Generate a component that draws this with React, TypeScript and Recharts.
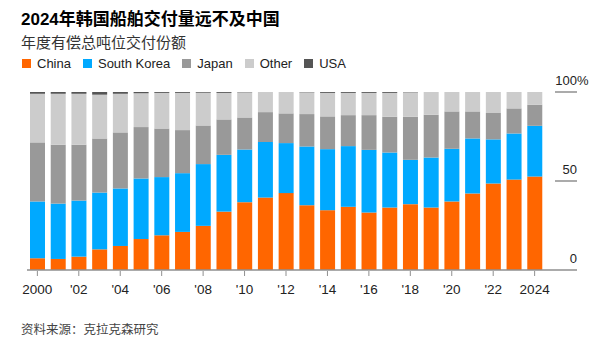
import { BarChart, Bar, XAxis, YAxis } from 'recharts';

const years = [
  2000, 2001, 2002, 2003, 2004, 2005, 2006, 2007, 2008, 2009, 2010, 2011, 2012,
  2013, 2014, 2015, 2016, 2017, 2018, 2019, 2020, 2021, 2022, 2023, 2024,
];
const china = [
  6.6, 6.2, 7.5, 11.6, 13.5, 17.4, 19.5, 21.4, 24.8, 32.8, 38.1, 40.7, 43.2,
  36.4, 33.6, 35.5, 32.3, 35.1, 37.0, 35.1, 38.5, 43.0, 48.6, 50.8, 52.5,
];
const southKorea = [
  31.9, 31.1, 31.5, 31.9, 32.3, 34.0, 32.7, 33.0, 34.7, 31.9, 29.6, 31.2, 28.1,
  33.0, 34.3, 34.1, 35.2, 30.9, 24.9, 28.1, 29.6, 30.9, 24.8, 25.9, 28.5,
];
const japan = [
  33.2, 33.1, 31.4, 30.4, 31.5, 28.9, 27.3, 24.2, 21.7, 19.9, 18.0, 16.8, 16.7,
  18.2, 18.4, 17.4, 19.5, 20.1, 24.2, 24.0, 21.0, 15.2, 14.8, 14.1, 11.9,
];
const other = [
  27.3, 28.6, 28.6, 24.6, 21.7, 19.0, 20.0, 20.9, 18.4, 14.9, 14.1, 11.3, 12.0,
  12.2, 13.2, 12.5, 12.5, 13.4, 13.7, 12.8, 10.9, 10.9, 11.8, 9.2, 7.1,
];
const usa = [
  1.0, 1.0, 1.0, 1.5, 1.0, 0.7, 0.5, 0.5, 0.4, 0.5, 0.2, 0, 0,
  0.2, 0.5, 0.5, 0.5, 0.5, 0.2, 0, 0, 0, 0, 0, 0,
];
const yTicks = [0, 50, 100];

const series = [
  { key: 'china', name: 'China', color: '#ff6600' },
  { key: 'southKorea', name: 'South Korea', color: '#00a9ff' },
  { key: 'japan', name: 'Japan', color: '#999999' },
  { key: 'other', name: 'Other', color: '#cccccc' },
  { key: 'usa', name: 'USA', color: '#555555' },
];

const data = years.map((year, i) => ({
  year,
  china: china[i],
  southKorea: southKorea[i],
  japan: japan[i],
  other: other[i],
  usa: usa[i],
}));

const FONT = '"Liberation Sans", Arial, "Noto Sans CJK SC", sans-serif';
const AXIS_GREY = '#8f8f8f';

const XTick = (props: any) => {
  const { x, y, payload } = props;
  const yr = Number(payload.value);
  if (yr % 2 !== 0) return <g />;
  const label = yr === 2000 || yr === 2024 ? String(yr) : "'" + String(yr).slice(2);
  return (
    <g>
      <line x1={x} x2={x} y1={y + 1} y2={y + 6} stroke={AXIS_GREY} strokeWidth={1} />
      <text x={x} y={y + 24} textAnchor="middle" fontSize={13.5} fill="#222" fontFamily={FONT}>
        {label}
      </text>
    </g>
  );
};

const YTick = (props: any) => {
  const { x, y, payload } = props;
  const v = Number(payload.value);
  const right = x + 32;
  return (
    <g>
      <line x1={v === 0 ? x : x + 10} x2={right} y1={y} y2={y} stroke={AXIS_GREY} strokeWidth={1.5} />
      <text x={right} y={y - 7} textAnchor="end" fontSize={13} fill="#222" fontFamily={FONT}>
        {v}
      </text>
      {v === 100 && (
        <text x={right} y={y - 7} textAnchor="start" fontSize={13} fill="#222" fontFamily={FONT}>
          %
        </text>
      )}
    </g>
  );
};

const App = () => {
  return (
    <div style={{ position: 'absolute', left: 0, top: 0, width: 600, height: 344, background: '#fff', fontFamily: FONT }}>
      <div style={{ position: 'absolute', left: 21, top: 5, fontSize: 17, fontWeight: 700, color: '#000', whiteSpace: 'nowrap' }}>
        2024年韩国船舶交付量远不及中国
      </div>
      <div style={{ position: 'absolute', left: 21, top: 31, fontSize: 15, color: '#333', whiteSpace: 'nowrap' }}>
        年度有偿总吨位交付份额
      </div>
      <div style={{ position: 'absolute', left: 22, top: 56, display: 'flex', alignItems: 'center', fontSize: 13, color: '#222' }}>
        {series.map((s) => (
          <div key={s.key} style={{ display: 'flex', alignItems: 'center', marginRight: 12 }}>
            <span style={{ display: 'inline-block', width: 9, height: 9, background: s.color, marginRight: 6 }} />
            <span>{s.name}</span>
          </div>
        ))}
      </div>
      <BarChart
        width={600}
        height={344}
        data={data}
        margin={{ top: 92, right: 0, left: 27, bottom: 0 }}
        barSize={15}
      >
        <XAxis
          dataKey="year"
          height={74}
          interval={0}
          tickSize={0}
          tickMargin={0}
          tick={<XTick />}
          tickLine={false}
          axisLine={{ stroke: AXIS_GREY, strokeWidth: 1.5 }}
        />
        <YAxis
          orientation="right"
          width={55}
          domain={[0, 100]}
          ticks={yTicks}
          tickSize={0}
          tickMargin={0}
          tick={<YTick />}
          tickLine={false}
          axisLine={false}
        />
        {series.map((s) => (
          <Bar key={s.key} dataKey={s.key} name={s.name} stackId="a" fill={s.color} isAnimationActive={false} />
        ))}
      </BarChart>
      <div style={{ position: 'absolute', left: 21, top: 319, fontSize: 12.5, color: '#444', whiteSpace: 'nowrap' }}>
        资料来源：克拉克森研究
      </div>
    </div>
  );
};

export default App;
